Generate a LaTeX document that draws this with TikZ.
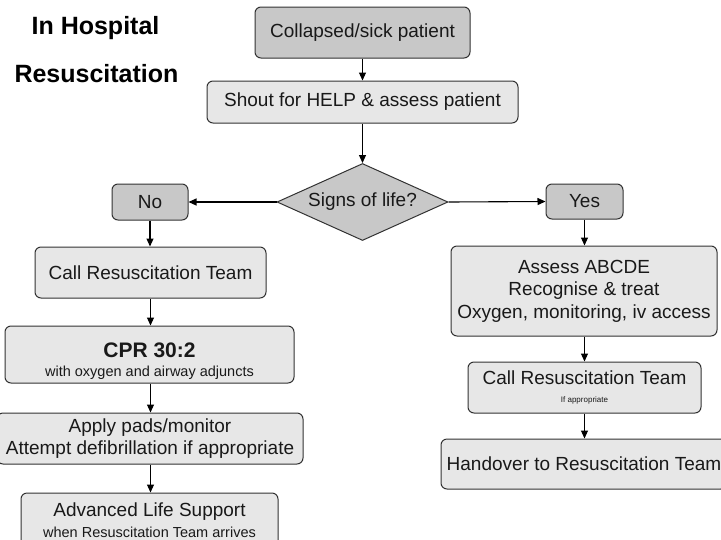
\documentclass[tikz,border=0pt]{standalone}
\usepackage{fontspec}
\setmainfont{Liberation Sans}
\usetikzlibrary{shapes.geometric,arrows.meta}
\definecolor{darkfill}{RGB}{200,200,200}
\definecolor{lightfill}{RGB}{231,231,231}
\definecolor{edgecol}{RGB}{50,50,50}
\definecolor{txt}{RGB}{25,25,25}
\begin{document}
\begin{tikzpicture}[x=1pt,y=-1pt,
  box/.style={draw=edgecol, line width=1pt, rounded corners=6pt, align=center, inner sep=0pt, font=\fontsize{19}{22.5}\selectfont, text=txt},
  darkbox/.style={box, fill=darkfill},
  lightbox/.style={box, fill=lightfill},
  arr/.style={draw=black, line width=1.1pt, -{Triangle[length=8pt,width=7pt]}},
  titletext/.style={font=\fontsize{25}{30}\selectfont\bfseries, inner sep=0pt, text=black}]
\useasboundingbox (0,0) rectangle (721,539);

\node[titletext] (t1) at (95.5,28) {In Hospital};
\node[titletext] (t2) at (96.5,74) {Resuscitation};

\node[darkbox, minimum width=215pt, minimum height=51pt] (c1) at (362.5,32.5) {Collapsed/sick patient};
\node[lightbox, minimum width=311pt, minimum height=42pt] (shout) at (362.5,102) {Shout for HELP \& assess patient};
\node[draw=edgecol, line width=1pt, fill=darkfill, diamond, aspect=2.22, minimum width=171pt, minimum height=77pt, inner sep=0pt, font=\fontsize{19}{22.5}\selectfont, text=txt] (d) at (362.5,202) {Signs of life?};

\node[darkbox, minimum width=76pt, minimum height=36pt] (no) at (150,202) {No};
\node[darkbox, minimum width=77pt, minimum height=35pt] (yes) at (584.5,201.5) {Yes};

\node[lightbox, minimum width=231pt, minimum height=51pt] (call1) at (150.5,272.5) {Call Resuscitation Team};
\node[lightbox, minimum width=289pt, minimum height=57pt] (cpr) at (149.5,354.5) {\rule{0pt}{28pt}{\fontsize{21}{22}\selectfont\bfseries CPR 30:2}\\[-3pt]{\fontsize{14.5}{17}\selectfont with oxygen and airway adjuncts}};
\node[lightbox, minimum width=306pt, minimum height=51pt] (apply) at (150,438.5) {Apply pads/monitor\\Attempt defibrillation if appropriate};
\node[lightbox, minimum width=257pt, minimum height=54pt] (als) at (149.5,520) {Advanced Life Support\\[-2pt]{\fontsize{14.5}{17}\selectfont when Resuscitation Team arrives}};

\node[lightbox, minimum width=266pt, minimum height=90pt] (assess) at (584,291) {Assess ABCDE\\Recognise \& treat\\Oxygen, monitoring, iv access};
\node[lightbox, minimum width=233pt, minimum height=51pt] (call2) at (584.5,387.5) {Call Resuscitation Team\\[-4pt]{\fontsize{8}{9}\selectfont If appropriate}};
\node[lightbox, minimum width=286pt, minimum height=50pt] (hand) at (584,464) {Handover to Resuscitation Team};

\draw[arr] (c1.south) -- (shout.north);
\draw[arr] (shout.south) -- (d.north);
\draw[arr] (d.west) -- (no.east);
\draw[arr] (d.east) -- (yes.west);
\draw[arr] (no.south) -- (no.south |- call1.north);
\draw[arr] (call1.south) -- (call1.south |- cpr.north);
\draw[arr] (call1.south |- cpr.south) -- (call1.south |- apply.north);
\draw[arr] (call1.south |- apply.south) -- (call1.south |- als.north);
\draw[arr] (yes.south) -- (yes.south |- assess.north);
\draw[arr] (yes.south |- assess.south) -- (yes.south |- call2.north);
\draw[arr] (yes.south |- call2.south) -- (yes.south |- hand.north);
\end{tikzpicture}
\end{document}
